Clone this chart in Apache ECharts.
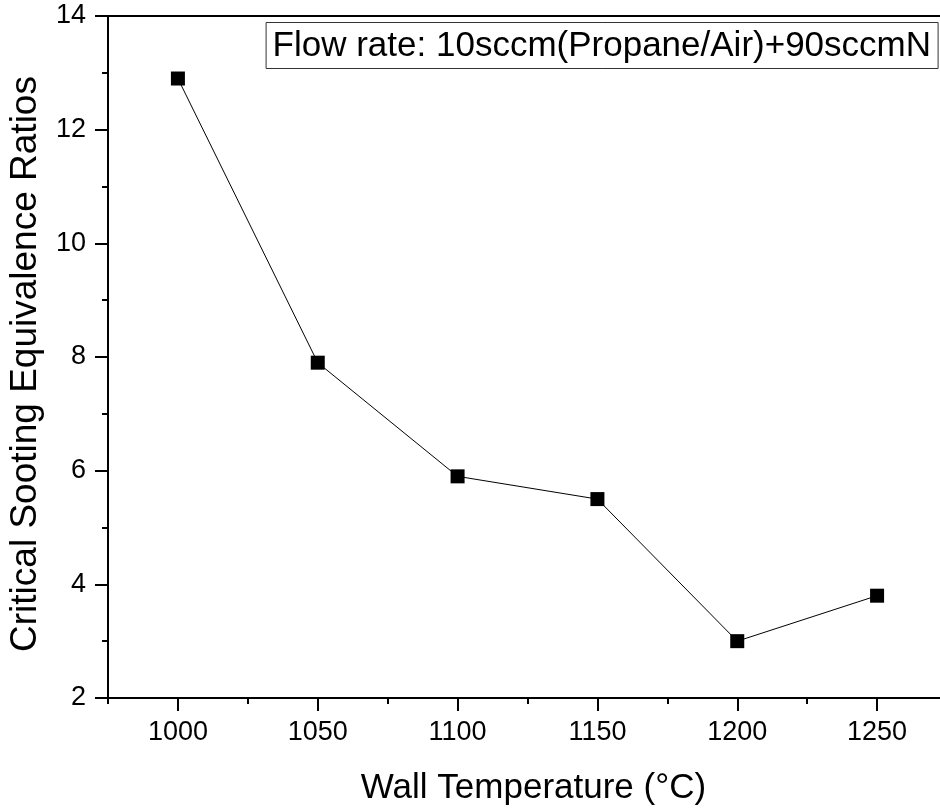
<!DOCTYPE html>
<html>
<head>
<meta charset="utf-8">
<script src="https://cdn.jsdelivr.net/npm/echarts@6/dist/echarts.min.js"></script>
<style>
  html, body { margin: 0; padding: 0; background: #fff; }
  #chart { width: 940px; height: 811px; }
</style>
</head>
<body>
<div id="chart"></div>
<script>
// Wall temperature (°C) and measured critical sooting equivalence ratio
const wallTemps = [1000, 1050, 1100, 1150, 1200, 1250];
const sootingRatios = [12.9, 7.9, 5.9, 5.5, 3.0, 3.8];
const xMajorTicks = [1000, 1050, 1100, 1150, 1200, 1250];
const xMinorTicks = [975, 1025, 1075, 1125, 1175, 1225, 1275];
const legendText = 'Flow rate: 10sccm(Propane/Air)+90sccmN';

const FONT = '"Liberation Sans", Arial, sans-serif';
const X_MIN = 975, X_MAX = 1275;

const chart = echarts.init(document.getElementById('chart'), null, { renderer: 'canvas' });

const axisLineStyle = { color: '#000', width: 2 };
const plainNumber = v => String(v);

chart.setOption({
  backgroundColor: '#fff',
  animation: false,
  title: {
    text: legendText,
    right: 2,
    top: 22,
    padding: [6, 7, 5, 7],
    borderColor: '#333',
    borderWidth: 1,
    textStyle: { fontFamily: FONT, fontSize: 35, fontWeight: 'normal', color: '#000', lineHeight: 36 }
  },
  grid: { left: 108, right: -7, top: 16, bottom: 113, containLabel: false, outerBoundsMode: 'none' },
  xAxis: [
    {
      type: 'value', min: X_MIN, max: X_MAX, position: 'bottom',
      name: 'Wall Temperature (°C)', nameLocation: 'middle', nameGap: 73,
      nameTextStyle: { fontFamily: FONT, fontSize: 35, color: '#000', padding: [0, 0, 0, 12] },
      axisLine: { show: true, onZero: false, lineStyle: axisLineStyle },
      axisTick: { show: true, inside: false, length: 13, lineStyle: { color: '#000', width: 2 }, customValues: xMajorTicks },
      axisLabel: { show: true, margin: 21, fontFamily: FONT, fontSize: 27, color: '#000', customValues: xMajorTicks, formatter: plainNumber },
      splitLine: { show: false }
    },
    {
      type: 'value', min: X_MIN, max: X_MAX, position: 'bottom',
      axisLine: { show: false },
      axisTick: { show: true, inside: false, length: 6, lineStyle: { color: '#000', width: 2 }, customValues: xMinorTicks },
      axisLabel: { show: false },
      splitLine: { show: false }
    },
    {
      type: 'value', min: X_MIN, max: X_MAX, position: 'top',
      axisLine: { show: true, onZero: false, lineStyle: axisLineStyle },
      axisTick: { show: false },
      axisLabel: { show: false },
      splitLine: { show: false }
    }
  ],
  yAxis: {
    type: 'value', min: 2, max: 14, interval: 2,
    name: 'Critical Sooting Equivalence Ratios', nameLocation: 'middle', nameGap: 64,
    nameTextStyle: { fontFamily: FONT, fontSize: 37, color: '#000', padding: [0, 14, 0, 0] },
    axisLine: { show: true, onZero: false, lineStyle: axisLineStyle },
    axisTick: { show: true, inside: false, length: 13, lineStyle: { color: '#000', width: 2 } },
    minorTick: { show: true, splitNumber: 2, length: 6, lineStyle: { color: '#000', width: 2 } },
    axisLabel: { margin: 22, fontFamily: FONT, fontSize: 27, color: '#000', formatter: plainNumber },
    splitLine: { show: false }
  },
  series: [{
    type: 'line',
    xAxisIndex: 0,
    data: wallTemps.map((t, i) => [t, sootingRatios[i]]),
    symbol: 'rect',
    symbolSize: 14,
    showAllSymbol: true,
    lineStyle: { color: '#000', width: 1 },
    itemStyle: { color: '#000', borderWidth: 0 },
    emphasis: { disabled: true }
  }]
});
</script>
</body>
</html>
